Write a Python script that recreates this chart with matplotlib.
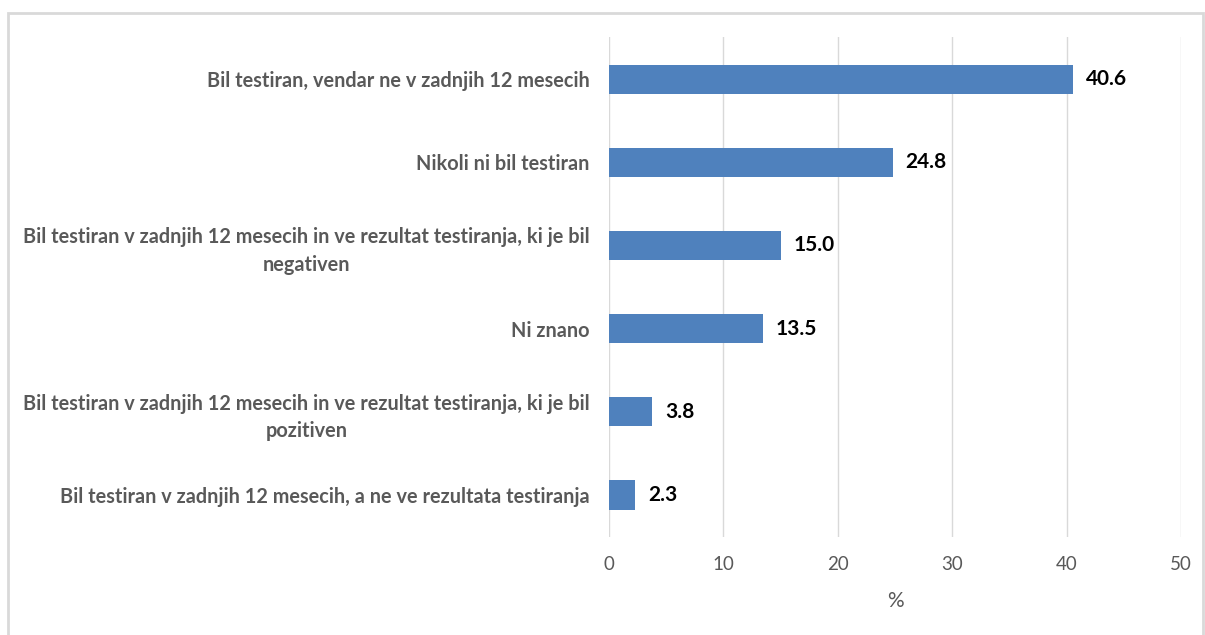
import matplotlib

matplotlib.use("Agg")
from matplotlib import pyplot as plt
from matplotlib.patches import Rectangle

categories = [
    "Bil testiran, vendar ne v zadnjih 12 mesecih",
    "Nikoli ni bil testiran",
    "Bil testiran v zadnjih 12 mesecih in ve rezultat testiranja, ki je bil\nnegativen",
    "Ni znano",
    "Bil testiran v zadnjih 12 mesecih in ve rezultat testiranja, ki je bil\npozitiven",
    "Bil testiran v zadnjih 12 mesecih, a ne ve rezultata testiranja",
]
values = [40.6, 24.8, 15.0, 13.5, 3.8, 2.3]
x_ticks = [0, 10, 20, 30, 40, 50]

plt.rcParams["font.family"] = ["Lato", "DejaVu Sans"]

fig = plt.figure(figsize=(12.05, 6.35), dpi=100)
ax = fig.add_axes([0.5054, 0.155, 0.4747, 0.786])

pos = list(range(len(categories)))[::-1]
ax.barh(pos, values, height=0.35, color="#4F81BD", zorder=3)
for p, v in zip(pos, values):
    ax.text(v + 1.1, p, f"{v:.1f}", va="center", ha="left",
            fontsize=15, fontweight="bold", color="black")

ax.set_ylim(-0.5, len(categories) - 0.5)
ax.set_xlim(0, 50)
ax.set_xticks(x_ticks)
ax.set_yticks(pos)
ax.set_yticklabels(categories, fontsize=14.3, fontweight="bold",
                   color="#595959", multialignment="center", linespacing=1.45)
ax.tick_params(axis="y", length=0, pad=14)
ax.tick_params(axis="x", length=0, pad=14, labelsize=13.5, labelcolor="#595959")
ax.xaxis.grid(True, color="#D9D9D9", linewidth=1, zorder=0)
for s in ax.spines.values():
    s.set_visible(False)
ax.set_xlabel("%", fontsize=15, color="#595959", labelpad=13)

fig.patches.append(Rectangle((8 / 1205, -0.05), 1195 / 1205, 1.05 - 13 / 635,
                             transform=fig.transFigure, fill=False,
                             edgecolor="#D9D9D9", linewidth=2))

fig.savefig("out.png", dpi=100)
